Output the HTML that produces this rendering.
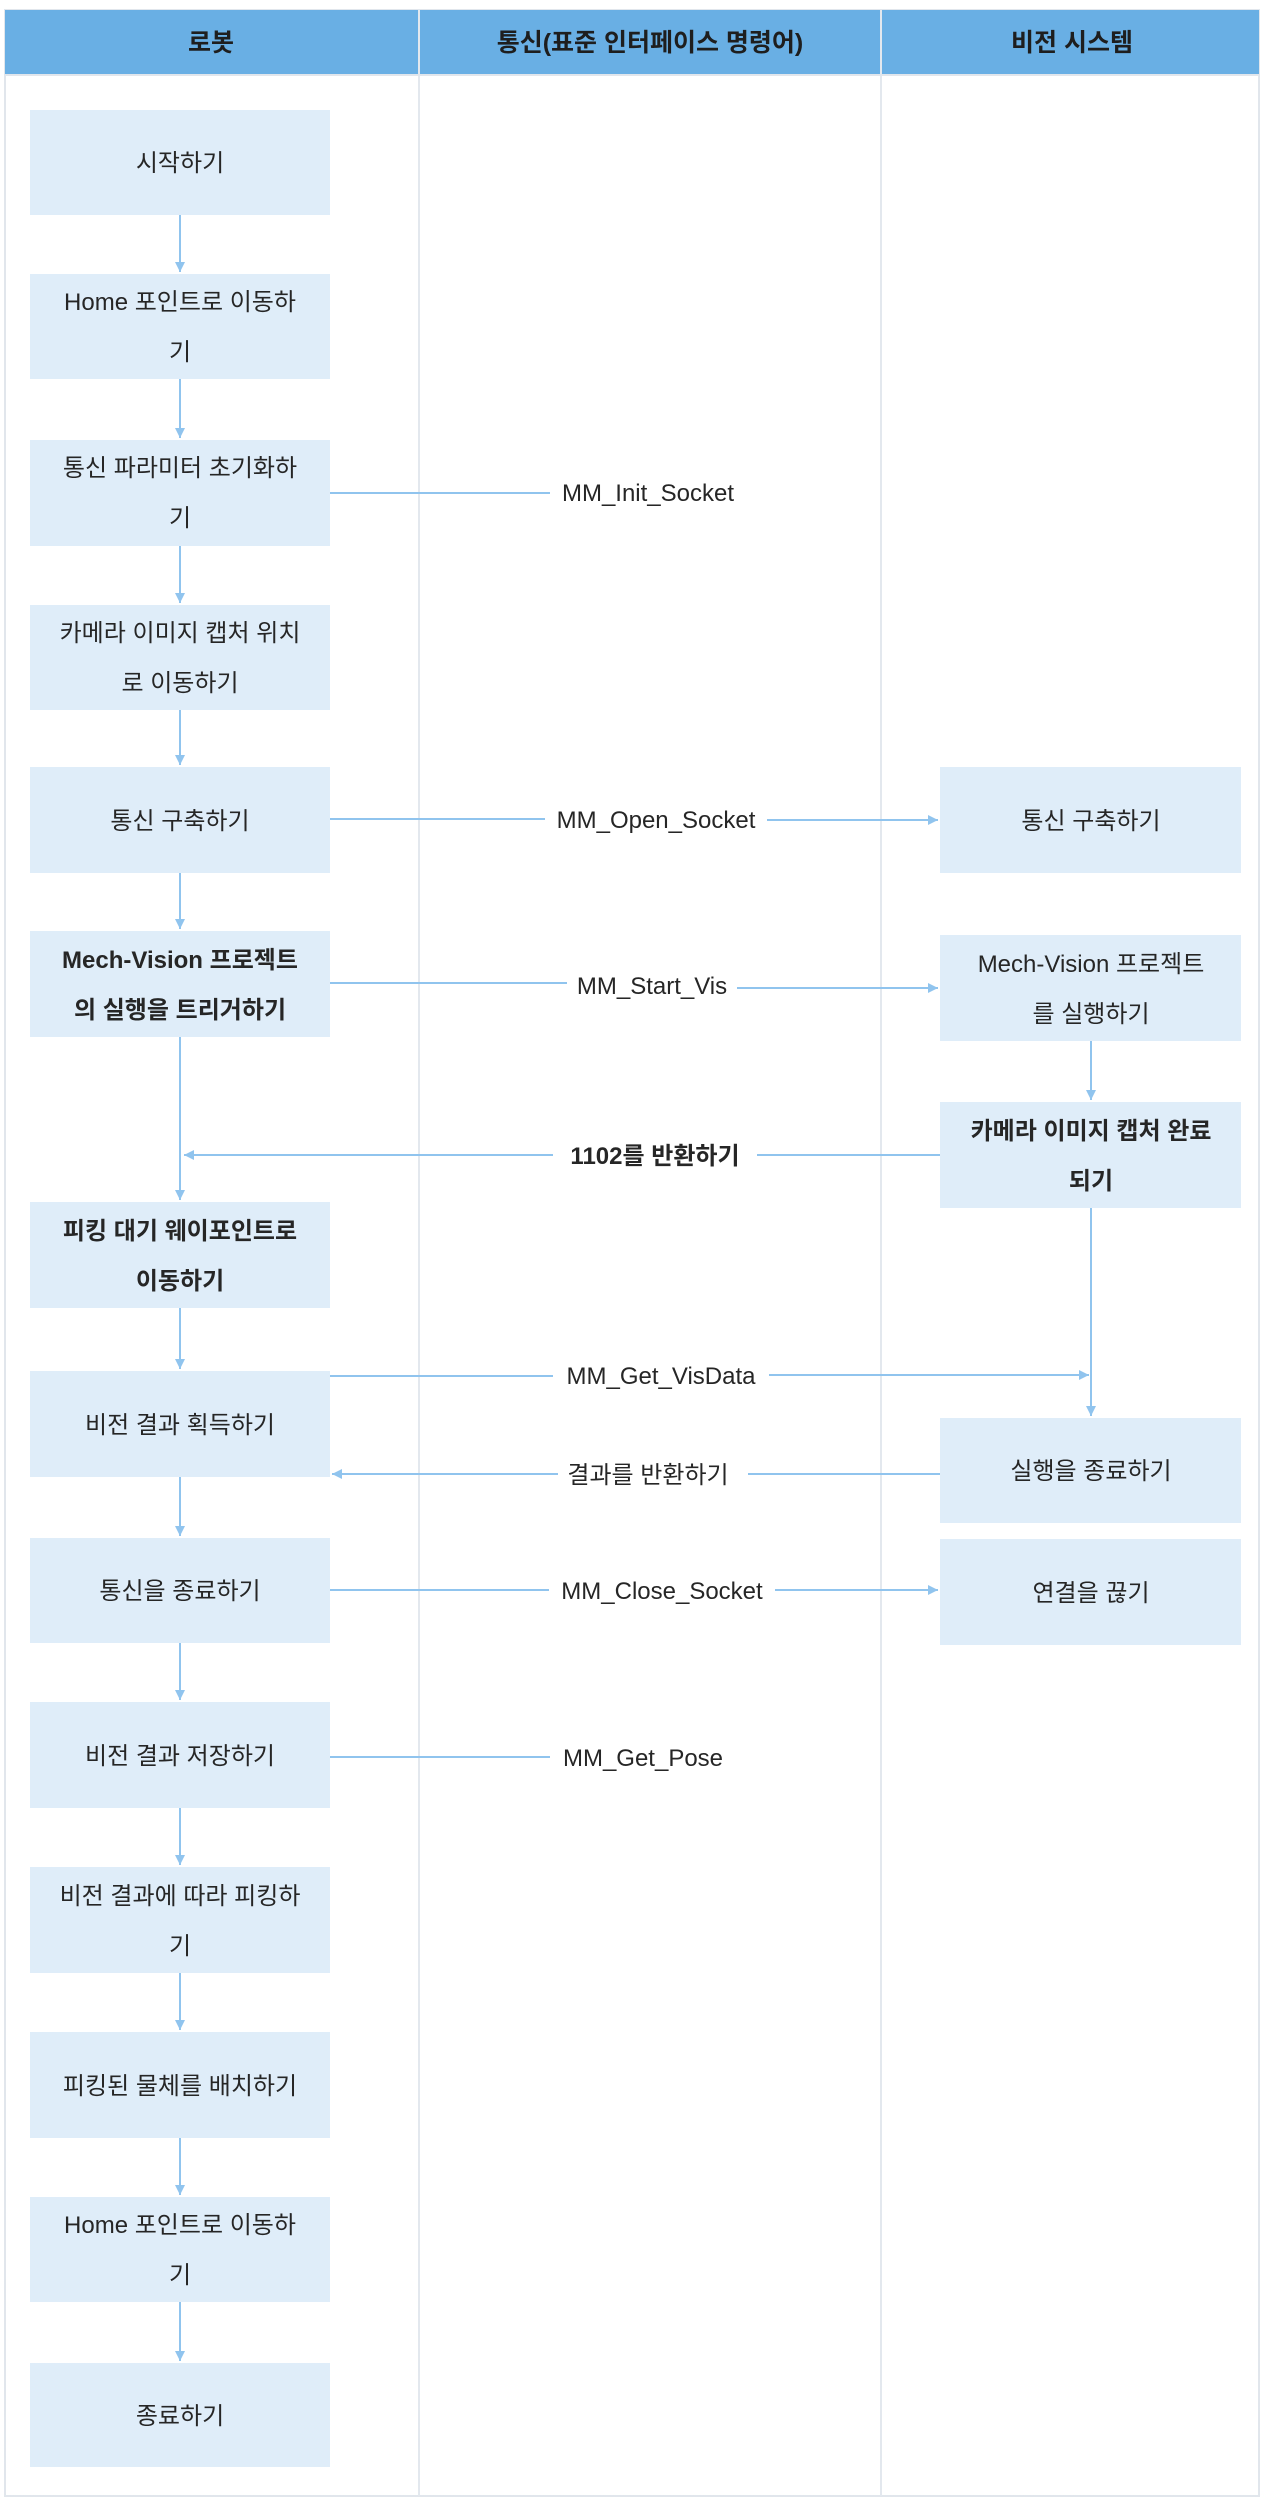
<!DOCTYPE html>
<html><head><meta charset="utf-8"><style>
html,body{margin:0;padding:0;background:#fff;}
svg{display:block;}
text{font-family:"Liberation Sans","Noto Sans CJK KR",sans-serif;font-size:24px;fill:#262626;}
.b{font-weight:bold;}
.h{font-weight:bold;font-size:25px;fill:#1e1e1e;}
</style></head><body>
<svg width="1264" height="2499" viewBox="0 0 1264 2499" xmlns="http://www.w3.org/2000/svg">
<defs>
<marker id="a" markerWidth="12" markerHeight="12" refX="10" refY="5" orient="auto" markerUnits="userSpaceOnUse">
<path d="M0,0 L10,5 L0,10 z" fill="#90c4ee"/></marker>
</defs>
<rect x="5" y="10" width="1254" height="2486" fill="#fff" stroke="#e1e6ec" stroke-width="2"/>
<rect x="5" y="10" width="1254" height="64" fill="#69afe4"/>
<line x1="419" y1="10" x2="419" y2="2496" stroke="#e3e8ee" stroke-width="2"/>
<line x1="881" y1="10" x2="881" y2="2496" stroke="#e3e8ee" stroke-width="2"/>
<line x1="5" y1="75" x2="1259" y2="75" stroke="#e1e6ec" stroke-width="2"/>
<text class="h" x="211" y="51" text-anchor="middle">로봇</text>
<text class="h" x="650" y="51" text-anchor="middle">통신(표준 인터페이스 명령어)</text>
<text class="h" x="1072" y="51" text-anchor="middle">비전 시스템</text>

<g fill="#dfedf9">
<rect x="30" y="110" width="300" height="105"/>
<rect x="30" y="274" width="300" height="105"/>
<rect x="30" y="440" width="300" height="106"/>
<rect x="30" y="605" width="300" height="105"/>
<rect x="30" y="767" width="300" height="106"/>
<rect x="30" y="931" width="300" height="106"/>
<rect x="30" y="1202" width="300" height="106"/>
<rect x="30" y="1371" width="300" height="106"/>
<rect x="30" y="1538" width="300" height="105"/>
<rect x="30" y="1702" width="300" height="106"/>
<rect x="30" y="1867" width="300" height="106"/>
<rect x="30" y="2032" width="300" height="106"/>
<rect x="30" y="2197" width="300" height="105"/>
<rect x="30" y="2363" width="300" height="104"/>
<rect x="940" y="767" width="301" height="106"/>
<rect x="940" y="935" width="301" height="106"/>
<rect x="940" y="1102" width="301" height="106"/>
<rect x="940" y="1418" width="301" height="105"/>
<rect x="940" y="1539" width="301" height="106"/>
</g>

<g stroke="#90c4ee" stroke-width="2" fill="none">
<line x1="180" y1="215" x2="180" y2="272" marker-end="url(#a)"/>
<line x1="180" y1="379" x2="180" y2="438" marker-end="url(#a)"/>
<line x1="180" y1="546" x2="180" y2="603" marker-end="url(#a)"/>
<line x1="180" y1="710" x2="180" y2="765" marker-end="url(#a)"/>
<line x1="180" y1="873" x2="180" y2="929" marker-end="url(#a)"/>
<line x1="180" y1="1037" x2="180" y2="1200" marker-end="url(#a)"/>
<line x1="180" y1="1308" x2="180" y2="1369" marker-end="url(#a)"/>
<line x1="180" y1="1477" x2="180" y2="1536" marker-end="url(#a)"/>
<line x1="180" y1="1643" x2="180" y2="1700" marker-end="url(#a)"/>
<line x1="180" y1="1808" x2="180" y2="1865" marker-end="url(#a)"/>
<line x1="180" y1="1973" x2="180" y2="2030" marker-end="url(#a)"/>
<line x1="180" y1="2138" x2="180" y2="2195" marker-end="url(#a)"/>
<line x1="180" y1="2302" x2="180" y2="2361" marker-end="url(#a)"/>
<line x1="1091" y1="1041" x2="1091" y2="1100" marker-end="url(#a)"/>
<line x1="1091" y1="1208" x2="1091" y2="1416" marker-end="url(#a)"/>
<line x1="330" y1="493" x2="550" y2="493"/>
<polyline points="330,819 640,819 640,820 938,820" marker-end="url(#a)"/>
<polyline points="330,983 640,983 640,988 938,988" marker-end="url(#a)"/>
<line x1="940" y1="1155" x2="184" y2="1155" marker-end="url(#a)"/>
<polyline points="330,1376 660,1376 660,1375 1089,1375" marker-end="url(#a)"/>
<line x1="940" y1="1474" x2="332" y2="1474" marker-end="url(#a)"/>
<line x1="330" y1="1590" x2="938" y2="1590" marker-end="url(#a)"/>
<line x1="330" y1="1757" x2="550" y2="1757"/>
</g>

<g fill="#fff">
<rect x="552" y="476" width="194" height="34"/>
<rect x="545" y="802" width="222" height="34"/>
<rect x="567" y="968" width="170" height="34"/>
<rect x="553" y="1138" width="204" height="34"/>
<rect x="553" y="1358" width="216" height="34"/>
<rect x="558" y="1457" width="190" height="34"/>
<rect x="549" y="1573" width="226" height="34"/>
<rect x="552" y="1740" width="182" height="34"/>
</g>

<g text-anchor="middle">
<text x="180" y="171">시작하기</text>
<text x="180" y="310">Home 포인트로 이동하</text><text x="180" y="360">기</text>
<text x="180" y="476">통신 파라미터 초기화하</text><text x="180" y="526">기</text>
<text x="180" y="641">카메라 이미지 캡처 위치</text><text x="180" y="691">로 이동하기</text>
<text x="180" y="829">통신 구축하기</text>
<text class="b" x="180" y="968">Mech-Vision 프로젝트</text><text class="b" x="180" y="1018">의 실행을 트리거하기</text>
<text class="b" x="180" y="1239">피킹 대기 웨이포인트로</text><text class="b" x="180" y="1289">이동하기</text>
<text x="180" y="1433">비전 결과 획득하기</text>
<text x="180" y="1599">통신을 종료하기</text>
<text x="180" y="1764">비전 결과 저장하기</text>
<text x="180" y="1904">비전 결과에 따라 피킹하</text><text x="180" y="1954">기</text>
<text x="180" y="2094">피킹된 물체를 배치하기</text>
<text x="180" y="2233">Home 포인트로 이동하</text><text x="180" y="2283">기</text>
<text x="180" y="2424">종료하기</text>
<text x="1091" y="829">통신 구축하기</text>
<text x="1091" y="972">Mech-Vision 프로젝트</text><text x="1091" y="1022">를 실행하기</text>
<text class="b" x="1091" y="1139">카메라 이미지 캡처 완료</text><text class="b" x="1091" y="1189">되기</text>
<text x="1091" y="1479">실행을 종료하기</text>
<text x="1091" y="1601">연결을 끊기</text>
<text x="648" y="501">MM_Init_Socket</text>
<text x="656" y="828">MM_Open_Socket</text>
<text x="652" y="994">MM_Start_Vis</text>
<text class="b" x="655" y="1164">1102를 반환하기</text>
<text x="661" y="1384">MM_Get_VisData</text>
<text x="648" y="1483">결과를 반환하기</text>
<text x="662" y="1599">MM_Close_Socket</text>
<text x="643" y="1766">MM_Get_Pose</text>
</g>
</svg>
</body></html>
